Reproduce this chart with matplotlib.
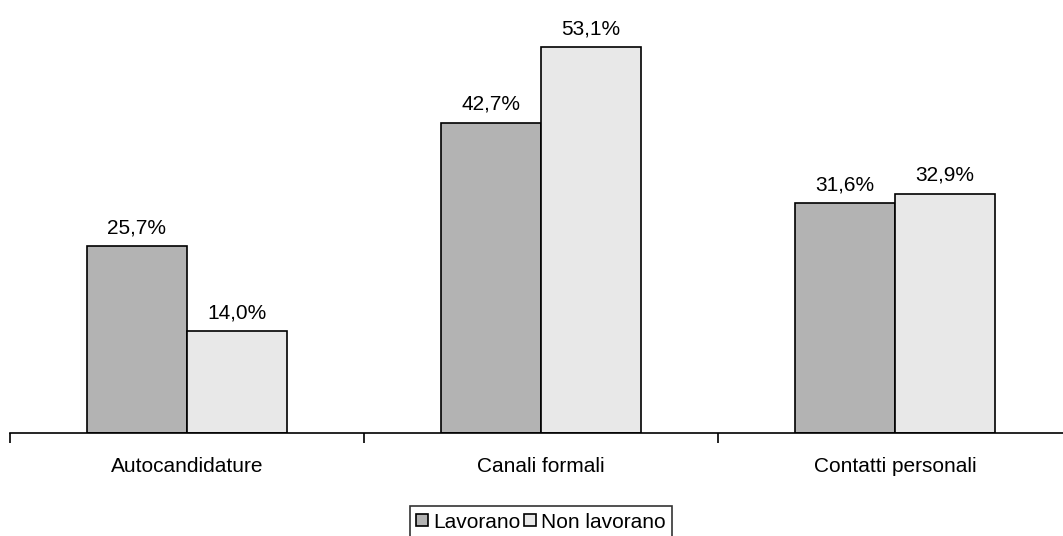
import numpy as np
import matplotlib.pyplot as plt
from matplotlib.ticker import FixedLocator

categories = ['Autocandidature', 'Canali formali', 'Contatti personali']
lavorano = [25.7, 42.7, 31.6]
non_lavorano = [14.0, 53.1, 32.9]
series_names = ['Lavorano', 'Non lavorano']

plt.rcParams['font.family'] = ['Liberation Sans', 'DejaVu Sans']
FS = 15

W, H = 1063, 536
fig = plt.figure(figsize=(W / 100, H / 100), dpi=100)
ax = fig.add_axes([10 / W, (H - 433) / H, 1062 / W, 433 / H])

x = np.arange(len(categories))
bw = 0.283
b1 = ax.bar(x - bw / 2, lavorano, bw, color='#b3b3b3', edgecolor='black', linewidth=1.2, label=series_names[0])
b2 = ax.bar(x + bw / 2, non_lavorano, bw, color='#e8e8e8', edgecolor='black', linewidth=1.2, label=series_names[1])

for bars, vals in ((b1, lavorano), (b2, non_lavorano)):
    for rect, v in zip(bars, vals):
        ax.text(rect.get_x() + rect.get_width() / 2, v + 1.8,
                f'{v:.1f}%'.replace('.', ','), ha='center', va='baseline', fontsize=FS)

ax.set_xlim(-0.5, 2.5)
ax.set_ylim(0, 59.6)
ax.set_yticks([])
for s in ('top', 'right', 'left'):
    ax.spines[s].set_visible(False)
ax.spines['bottom'].set_linewidth(1.2)

ax.set_xticks(x)
ax.set_xticklabels(categories, fontsize=FS)
ax.tick_params(axis='x', which='major', length=0, pad=17)
ax.xaxis.set_minor_locator(FixedLocator([-0.5, 0.5, 1.5, 2.5]))
ax.tick_params(axis='x', which='minor', length=7, width=1.2, direction='out')

leg = fig.legend(loc='center', bbox_to_anchor=(541 / W, 1 - 522 / H), ncol=2,
                 fontsize=FS, frameon=True, fancybox=False, edgecolor='black',
                 handlelength=0.55, handleheight=0.55, handletextpad=0.25,
                 columnspacing=0.2, borderpad=0.3, borderaxespad=0)
leg.get_frame().set_linewidth(1.2)

fig.savefig('out.png', dpi=100)
